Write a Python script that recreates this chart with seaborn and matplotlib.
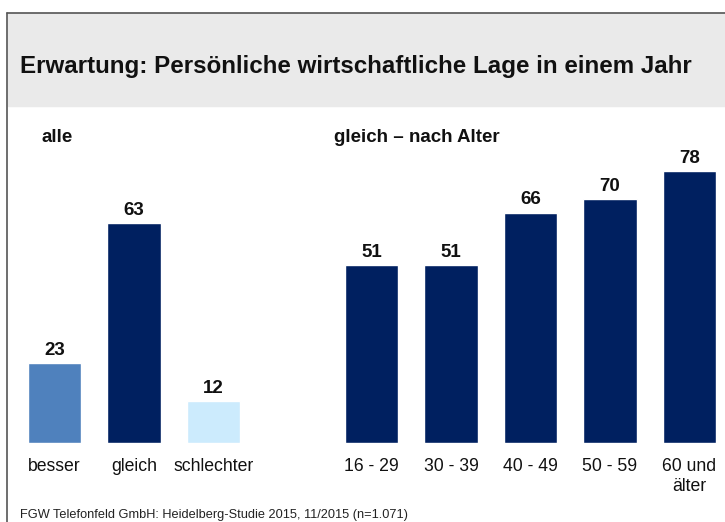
import matplotlib
matplotlib.use("Agg")
import matplotlib.pyplot as plt
import seaborn as sns
import pandas as pd

# Daten
alle_labels = ["besser", "gleich", "schlechter"]
alle_werte = [23, 63, 12]
alle_farben = ["#4F81BD", "#002060", "#CCEBFD"]

alter_labels = ["16 - 29", "30 - 39", "40 - 49", "50 - 59", "60 und\nälter"]
alter_werte = [51, 51, 66, 70, 78]
alter_farbe = "#002060"

titel = "Erwartung: Persönliche wirtschaftliche Lage in einem Jahr"
quelle = "FGW Telefonfeld GmbH: Heidelberg-Studie 2015, 11/2015 (n=1.071)"

sns.set_theme(style="white")
plt.rcParams["font.family"] = ["Liberation Sans", "DejaVu Sans"]

W, H = 725, 522
fig = plt.figure(figsize=(W / 100, H / 100), dpi=100)

# Rahmen und grauer Titelbalken
fig.patches.append(plt.Rectangle((8 / W, 1 - 106 / H), 1, 93 / H,
                                 transform=fig.transFigure, color="#EAEAEA", zorder=0))
fig.add_artist(plt.Line2D([7 / W, 1], [1 - 13 / H] * 2, transform=fig.transFigure,
                          color="#555555", lw=1.2))
fig.add_artist(plt.Line2D([7 / W] * 2, [0, 1 - 13 / H], transform=fig.transFigure,
                          color="#555555", lw=1.2))

fig.text(20 / W, 1 - 66 / H, titel, fontsize=17.4, fontweight="bold",
         va="center", ha="left", color="#111111")
fig.text(42 / W, 1 - 137 / H, "alle", fontsize=13.5, fontweight="bold", va="center",
         color="#111111")
fig.text(334 / W, 1 - 137 / H, "gleich – nach Alter", fontsize=13.5,
         fontweight="bold", va="center", color="#111111")
fig.text(20 / W, 1 - 515 / H, quelle, fontsize=9.2, va="center", color="#222222")

pitch = 79.5  # Pixel pro Balkenposition
base = 443
ymax = 100
px_per_unit = 3.49


def make_ax(center0, n_lim):
    left = center0 - pitch * 0.5
    width = pitch * n_lim
    return fig.add_axes([left / W, (H - base) / H, width / W, ymax * px_per_unit / H])


ax1 = make_ax(54.5, 3)
df1 = pd.DataFrame({"kat": alle_labels, "wert": alle_werte})
sns.barplot(data=df1, x="kat", y="wert", hue="kat", palette=alle_farben,
            legend=False, width=0.667, ax=ax1, saturation=1)
ax1.set_xlim(-0.5, 2.5)

ax2 = make_ax(371.5, 4.95)
df2 = pd.DataFrame({"kat": alter_labels, "wert": alter_werte})
sns.barplot(data=df2, x="kat", y="wert", color=alter_farbe, width=0.667,
            ax=ax2, saturation=1)
ax2.set_xlim(-0.5, 4.45)

for ax in (ax1, ax2):
    ax.set_ylim(0, ymax)
    ax.set_facecolor("none")
    ax.set_xlabel("")
    ax.set_ylabel("")
    ax.set_yticks([])
    sns.despine(ax=ax, left=True, bottom=True)
    ax.tick_params(axis="x", length=0, pad=11, labelsize=12.7)
    for lbl in ax.get_xticklabels():
        lbl.set_verticalalignment("top")
        lbl.set_color("#111111")
    for c in ax.containers:
        ax.bar_label(c, fmt="%d", padding=3, fontsize=13.5, fontweight="bold",
                     color="#111111")

fig.savefig("out.png", dpi=100)
